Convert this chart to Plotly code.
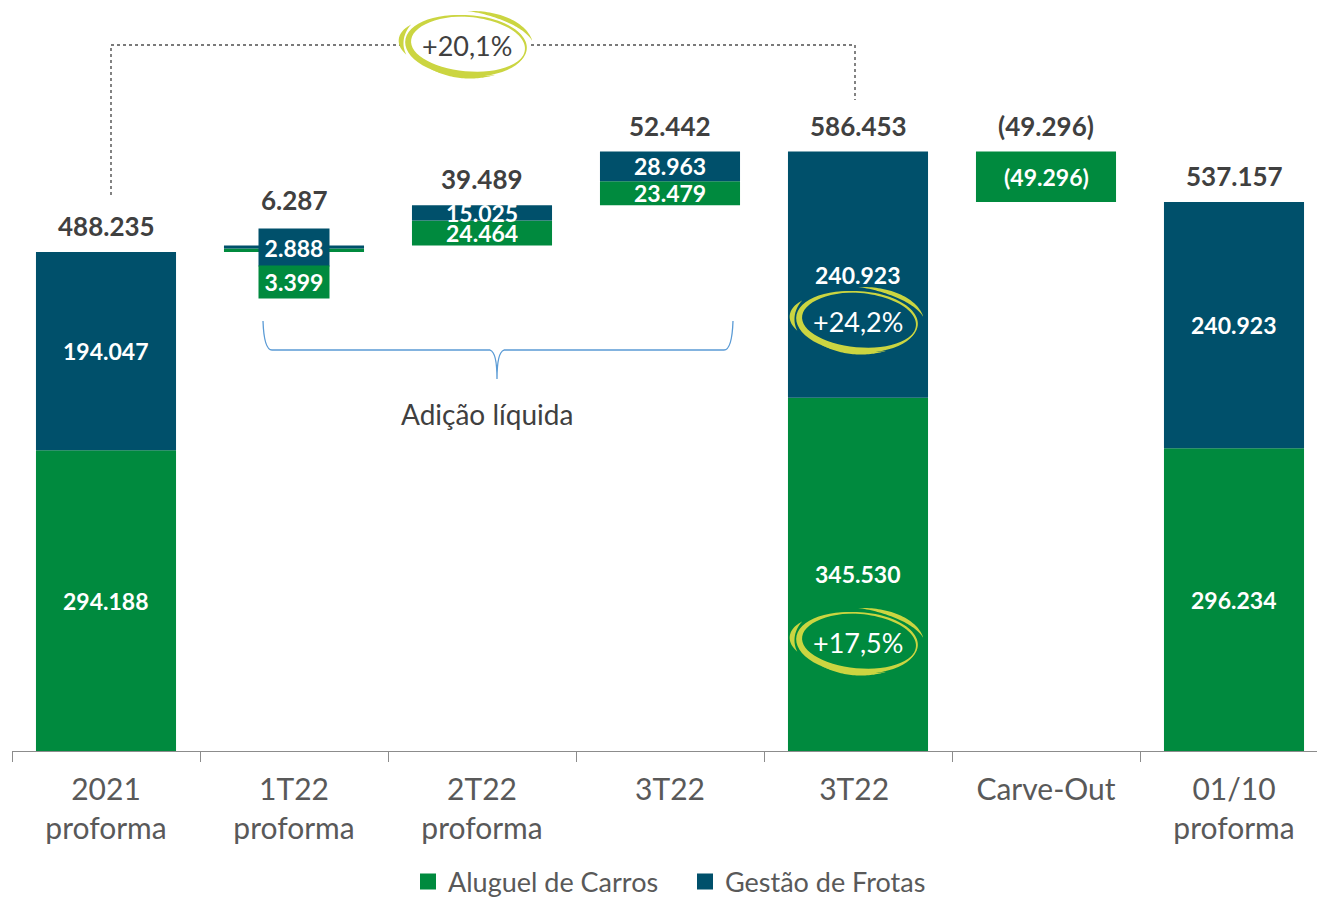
import math
import plotly.graph_objects as go

# ---------------- data ----------------
categories = ["2021<br>proforma", "1T22<br>proforma", "2T22<br>proforma", "3T22", "3T22 ", "Carve-Out", "01/10<br>proforma"]
aluguel = [294188, 3399, 24464, 23479, 345530, -49296, 296234]
gestao = [194047, 2888, 15025, 28963, 240923, 0, 240923]
kinds = ["total", "delta", "delta", "delta", "total", "delta", "total"]
growth_labels = ["+20,1%", "+24,2%", "+17,5%"]
brace_label = "Adição líquida"
series_names = ["Aluguel de Carros", "Gestão de Frotas"]

# ---------------- style ----------------
GREEN = "#008A3E"
BLUE = "#00506B"
YELLOW = "#CBD541"
DARK = "#404040"
GRAY = "#595959"
FONT = "Lato, 'Open Sans', sans-serif"

W, H = 1317, 897
ML, MB = 12, 146
PLOT_H = H - MB            # 751 px
SCALE = 499 / 488235.0     # px per unit
YMAX = PLOT_H / SCALE
CAT_PX = 188.0
XMAX = -0.5 + (W - ML) / CAT_PX


def px_x(px):
    return (px - ML) / CAT_PX - 0.5


def px_y(py):
    return (PLOT_H - py) / SCALE


def val_py(v):
    return PLOT_H - v * SCALE


def fmt(v):
    s = f"{abs(v):,}".replace(",", ".")
    return f"({s})" if v < 0 else s


# ---------------- bases ----------------
g_base, b_base, tops = [], [], []
running = 0
for i, k in enumerate(kinds):
    gb = 0 if k == "total" else running
    bb = gb + aluguel[i]
    end = bb + gestao[i]
    g_base.append(gb)
    b_base.append(bb)
    tops.append(max(gb, bb, end))
    running = end

fig = go.Figure()
fig.add_trace(go.Bar(x=categories, y=aluguel, base=g_base, name=series_names[0],
                     marker=dict(color=GREEN, line=dict(width=0)), width=0.745,
                     hoverinfo="skip", showlegend=False))
fig.add_trace(go.Bar(x=categories, y=gestao, base=b_base, name=series_names[1],
                     marker=dict(color=BLUE, line=dict(width=0)), width=0.745,
                     hoverinfo="skip", showlegend=False))
# legend entries (square swatches)
for nm, col in zip(series_names, [GREEN, BLUE]):
    fig.add_trace(go.Scatter(x=[None], y=[None], mode="markers", name=nm,
                             marker=dict(symbol="square", size=18, color=col),
                             hoverinfo="skip"))

annotations = []
shapes = []
IN_SIZE = 23

# inner labels
for i in range(len(categories)):
    segs = [(aluguel[i], g_base[i], GREEN), (gestao[i], b_base[i], BLUE)]
    thin = all(abs(v) * SCALE < 10 for v, _, _ in segs if v != 0)
    if thin:
        b_center = b_base[i] + gestao[i] / 2
        g_center = g_base[i] + aluguel[i] / 2
        b_py = val_py(b_center)
        g_py = val_py(g_center)
        annotations.append(dict(x=i, y=b_center, text=f"<b>{fmt(gestao[i])}</b>", showarrow=False,
                                font=dict(family=FONT, size=IN_SIZE, color="white"), bgcolor=BLUE,
                                width=62, height=29, borderpad=4, xref="x", yref="y"))
        target = b_py + 34.5
        annotations.append(dict(x=i, y=g_center, text=f"<b>{fmt(aluguel[i])}</b>", showarrow=False,
                                font=dict(family=FONT, size=IN_SIZE, color="white"), bgcolor=GREEN,
                                width=62, height=24, borderpad=4, yshift=-(target - g_py),
                                xref="x", yref="y"))
        box_top = b_py - 18.5
        top_py = val_py(tops[i])
        total_shift = (top_py - box_top) + 29
    else:
        for v, base, _c in segs:
            if v == 0:
                continue
            annotations.append(dict(x=i, y=base + v / 2, text=f"<b>{fmt(v)}</b>", showarrow=False,
                                    font=dict(family=FONT, size=IN_SIZE, color="white"),
                                    xref="x", yref="y"))
        total_shift = 26
    total = aluguel[i] + gestao[i]
    annotations.append(dict(x=i, y=tops[i], text=f"<b>{fmt(total)}</b>", showarrow=False,
                            font=dict(family=FONT, size=26, color=DARK), yshift=total_shift,
                            yanchor="middle", xref="x", yref="y"))


# ---------------- swoosh ellipses ----------------
def crescent(rx, ry, a0, a1, tmax, tmin=0.0, rot=-4, n=40):
    r = math.radians(rot)
    outer, inner = [], []
    for j in range(n + 1):
        u = j / n
        th = math.radians(a0 + (a1 - a0) * u)
        w = tmin + (tmax - tmin) * math.sin(math.pi * u)
        for lst, sgn in ((outer, 1), (inner, -1)):
            x = (rx + sgn * w / 2) * math.cos(th)
            y = (ry + sgn * w / 2) * math.sin(th)
            xr = x * math.cos(r) - y * math.sin(r)
            yr = x * math.sin(r) + y * math.cos(r)
            lst.append((xr, yr))
    pts = outer + inner[::-1]
    return "M " + " L ".join(f"{x:.2f},{y:.2f}" for x, y in pts) + " Z"


def swoosh(xa, ya, rx=59, ry=29):
    parts = [
        crescent(rx, ry, 95, 345, 6.5, 1.0),
        crescent(rx, ry, -30, 115, 2.5, 0.8),
        crescent(rx + 8, ry + 5, 15, 92, 4.5),
        crescent(rx + 7, ry + 4, 150, 205, 5.0),
        crescent(rx + 2, ry + 3, 235, 300, 3.0),
    ]
    for p in parts:
        shapes.append(dict(type="path", path=p, xref="x", yref="y", xsizemode="pixel",
                           ysizemode="pixel", xanchor=xa, yanchor=ya,
                           fillcolor=YELLOW, line=dict(width=0), layer="above"))


# connector between 2021 and 3T22
cx0 = px_x(111)
cx1 = px_x(855)
y_top = px_y(45)
conn = (f"M {cx0},{px_y(195)} L {cx0},{y_top} L {px_x(403)},{y_top} "
        f"M {px_x(531)},{y_top} L {cx1},{y_top} L {cx1},{px_y(100)}")
shapes.append(dict(type="path", path=conn, xref="x", yref="y",
                   line=dict(color="#4F4F4F", width=1.4, dash="dot")))

ell = [(px_x(467), px_y(45), DARK), (4, px_y(321), "white"), (4, px_y(642), "white")]
for (ex, ey, col), lab in zip(ell, growth_labels):
    swoosh(ex, ey)
    annotations.append(dict(x=ex, y=ey, text=lab, showarrow=False, xref="x", yref="y",
                            font=dict(family=FONT, size=27, color=col)))

# brace
bp = [(263, 321), (264, 350), (272, 350), (490, 350), (497, 352), (497, 379),
      (497, 352), (504, 350), (724, 350), (732, 350), (733, 321)]
bd = [(px_x(a), px_y(b)) for a, b in bp]
brace = (f"M {bd[0][0]},{bd[0][1]} Q {bd[1][0]},{bd[1][1]} {bd[2][0]},{bd[2][1]} "
         f"L {bd[3][0]},{bd[3][1]} Q {bd[4][0]},{bd[4][1]} {bd[5][0]},{bd[5][1]} "
         f"Q {bd[6][0]},{bd[6][1]} {bd[7][0]},{bd[7][1]} "
         f"L {bd[8][0]},{bd[8][1]} Q {bd[9][0]},{bd[9][1]} {bd[10][0]},{bd[10][1]}")
shapes.append(dict(type="path", path=brace, xref="x", yref="y",
                   line=dict(color="#5B9BD5", width=1.3)))
annotations.append(dict(x=px_x(487), y=px_y(414), text=brace_label, showarrow=False,
                        xref="x", yref="y", font=dict(family=FONT, size=28, color=DARK)))

fig.update_layout(
    width=W, height=H,
    margin=dict(l=ML, r=0, t=0, b=MB, autoexpand=False),
    paper_bgcolor="white", plot_bgcolor="white",
    barmode="overlay",
    showlegend=True,
    legend=dict(orientation="h", x=(685 - ML) / (W - ML), xanchor="center",
                y=-(882 - PLOT_H) / PLOT_H, yanchor="middle", itemwidth=30,
                entrywidth=232, entrywidthmode="pixels",
                font=dict(family=FONT, size=27, color=GRAY), itemclick=False,
                tracegroupgap=0),
    xaxis=dict(type="category", categoryorder="array", categoryarray=categories,
               range=[-0.5, XMAX], tickson="boundaries", ticks="outside", ticklen=10,
               tickcolor="#8C8C8C", showline=True, linecolor="#8C8C8C", linewidth=1,
               showgrid=False, zeroline=False, ticklabelstandoff=12,
               tickfont=dict(family=FONT, size=30, color=GRAY), fixedrange=True),
    yaxis=dict(range=[0, YMAX], visible=False, showgrid=False, zeroline=False, fixedrange=True),
    annotations=annotations,
    shapes=shapes,
)

fig.write_html("out.html", config={"displayModeBar": False})

# remove the browser's default page margin so the figure sits at the window's corner
with open("out.html", "r", encoding="utf-8") as f:
    html = f.read()
html = html.replace("<body>", '<body style="margin:0;padding:0;overflow:hidden">', 1)
with open("out.html", "w", encoding="utf-8") as f:
    f.write(html)
